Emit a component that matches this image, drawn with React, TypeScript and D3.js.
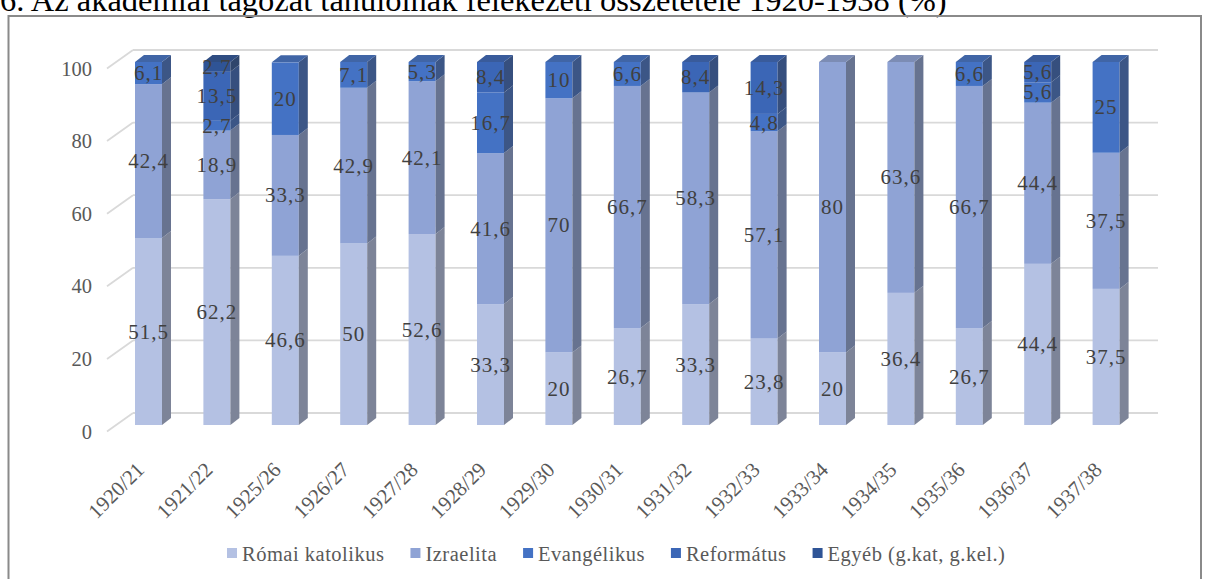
import React from 'react';
import * as d3 from 'd3';

const title = '6. Az akadémiai tagozat tanulóinak felekezeti összetétele 1920-1938 (%)';
const categories = ['1920/21', '1921/22', '1925/26', '1926/27', '1927/28', '1928/29', '1929/30', '1930/31', '1931/32', '1932/33', '1933/34', '1934/35', '1935/36', '1936/37', '1937/38'];
const romai = [51.5, 62.2, 46.6, 50, 52.6, 33.3, 20, 26.7, 33.3, 23.8, 20, 36.4, 26.7, 44.4, 37.5];
const izraelita = [42.4, 18.9, 33.3, 42.9, 42.1, 41.6, 70, 66.7, 58.3, 57.1, 80, 63.6, 66.7, 44.4, 37.5];
const evangelikus = [6.1, 2.7, 20, 7.1, 5.3, 16.7, 10, 6.6, 0, 4.8, 0, 0, 6.6, 5.6, 25];
const reformatus = [0, 13.5, 0, 0, 0, 8.4, 0, 0, 8.4, 14.3, 0, 0, 0, 5.6, 0];
const egyeb = [0, 2.7, 0, 0, 0, 0, 0, 0, 0, 0, 0, 0, 0, 0, 0];
const seriesNames = ['Római katolikus', 'Izraelita', 'Evangélikus', 'Református', 'Egyéb (g.kat, g.kel.)'];
const seriesColors = ['#b4c1e3', '#8fa3d5', '#4472c4', '#3b66b6', '#2f5496'];
const yTicks = [0, 20, 40, 60, 80, 100];

const FONT = '"Liberation Serif", "Times New Roman", serif';

function measure(text: string, font: string) {
  const c = document.createElement('canvas').getContext('2d')!;
  c.font = font;
  return c.measureText(text).width;
}

export default function App() {
  const W = 1205, H = 579;
  const series = [romai, izraelita, evangelikus, reformatus, egyeb];
  const rows = categories.map((c, i) => {
    const r: any = { cat: c };
    seriesNames.forEach((n, k) => (r[n] = series[k][i]));
    return r;
  });
  const stacked = d3.stack<any>().keys(seriesNames)(rows);

  const x = d3.scalePoint<string>().domain(categories).range([148.5, 1106.1]);
  const y = d3.scaleLinear().domain([0, 100]).range([425, 62]);
  const bw = 27, dx = 9, dy = -7;
  const backOff = 12;
  const wallFrontX = 107, wallBackX = 133, wallRightX = 1158, wallDy = 18.5;

  const shade = (c: string, t: number) => d3.interpolateRgb(c, '#303030')(t);

  // legend layout
  const legendFontSize = 20.5;
  const legendFont = `${legendFontSize}px ${FONT}`;
  const legendSpacing = 0.5;
  let lx = 227;
  const legendItems = seriesNames.map((n, k) => {
    const tw = measure(n, legendFont) + legendSpacing * n.length;
    const item = { name: n, color: seriesColors[k], x: lx, tw };
    lx += 15 + tw + 26;
    return item;
  });

  const topIndex = categories.map((_, i) => {
    let t = -1;
    stacked.forEach((layer, k) => {
      if (layer[i][1] - layer[i][0] > 0) t = k;
    });
    return t;
  });

  return (
    <svg width={W} height={H} style={{ position: 'absolute', left: 0, top: 0, background: '#fff' }} fontFamily={FONT}>
      <rect x={0} y={0} width={W} height={H} fill="#fff" />
      <text x={0} y={10.5} fontSize={32.5} fill="#000">{title}</text>
      <rect x={8.5} y={16} width={1192.5} height={700} fill="none" stroke="#8a8a8a" strokeWidth={2} />

      {/* gridlines: back wall and side wall */}
      {yTicks.map(t => {
        const yb = y(t) - backOff;
        return (
          <g key={t}>
            <line x1={wallBackX} y1={yb} x2={wallRightX} y2={yb} stroke="#d9d9d9" strokeWidth={1.8} />
            <line x1={wallFrontX} y1={yb + wallDy} x2={wallBackX} y2={yb} stroke="#d9d9d9" strokeWidth={1.8} />
            <text x={92} y={yb + wallDy} textAnchor="end" dominantBaseline="central" fontSize={20.5} fill="#595959">{t}</text>
          </g>
        );
      })}

      {/* bars */}
      {categories.map((c, i) => {
        const cx = x(c)!;
        const xl = cx - bw / 2, xr = cx + bw / 2;
        return (
          <g key={c}>
            {stacked.map((layer, k) => {
              const v0 = layer[i][0], v1 = layer[i][1];
              if (v1 - v0 <= 0) return null;
              const y0 = y(v0), y1 = y(v1);
              const col = seriesColors[k];
              return (
                <g key={k}>
                  <rect x={xl} y={y1} width={bw} height={y0 - y1} fill={col} />
                  <polygon points={`${xr},${y1} ${xr + dx},${y1 + dy} ${xr + dx},${y0 + dy} ${xr},${y0}`} fill={shade(col, 0.42)} />
                  {topIndex[i] === k && (
                    <polygon points={`${xl},${y1} ${xl + dx},${y1 + dy} ${xr + dx},${y1 + dy} ${xr},${y1}`} fill={shade(col, 0.2)} />
                  )}
                </g>
              );
            })}
          </g>
        );
      })}

      {/* data labels */}
      {categories.map((c, i) => {
        const cx = x(c)!;
        return stacked.map((layer, k) => {
          const v = layer[i][1] - layer[i][0];
          if (v <= 0) return null;
          const val = series[k][i];
          const ym = (y(layer[i][0]) + y(layer[i][1])) / 2;
          return (
            <text key={c + k} x={cx} y={ym} textAnchor="middle" dominantBaseline="central" fontSize={21} letterSpacing={1} fill="#404040">
              {String(val).replace('.', ',')}
            </text>
          );
        });
      })}

      {/* category labels */}
      {categories.map(c => (
        <text key={c} transform={`translate(${x(c)! - 3},${471}) rotate(-45)`} textAnchor="end" fontSize={21} fill="#595959">{c}</text>
      ))}

      {/* legend */}
      {legendItems.map(it => (
        <g key={it.name}>
          <rect x={it.x} y={548} width={10} height={10} fill={it.color} />
          <text x={it.x + 15} y={561} fontSize={legendFontSize} letterSpacing={legendSpacing} fill="#595959">{it.name}</text>
        </g>
      ))}
    </svg>
  );
}
